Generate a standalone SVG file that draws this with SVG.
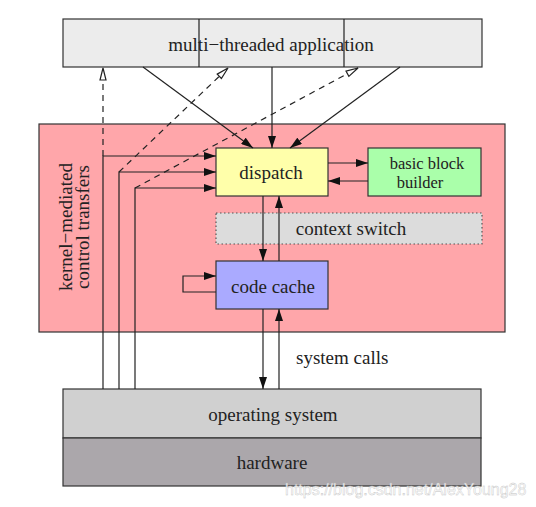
<svg xmlns="http://www.w3.org/2000/svg" width="536" height="507" viewBox="0 0 536 507">
<style>
.box{stroke:#333;stroke-width:1.2}
.t{font-family:"Liberation Serif","Times New Roman",serif;font-size:19px;fill:#222;text-anchor:middle}
.ln{stroke:#222;stroke-width:1.2;fill:none}
.dash{stroke:#222;stroke-width:1.2;fill:none;stroke-dasharray:6,5}
</style>
<defs>
<marker id="ah" viewBox="0 0 12 8" refX="12" refY="4" markerWidth="12" markerHeight="8" markerUnits="userSpaceOnUse" orient="auto">
<path d="M0,0 L12,4 L0,8 z" fill="#111"/>
</marker>
<marker id="oh" viewBox="0 0 14 8" refX="13" refY="4" markerWidth="14" markerHeight="8" markerUnits="userSpaceOnUse" orient="auto">
<path d="M1,1 L13,4 L1,7 z" fill="#fff" stroke="#222" stroke-width="1.2"/>
</marker>
</defs>
<rect width="536" height="507" fill="#fff"/>
<g id="runtime">
<rect class="box" x="39" y="124" width="466" height="208" fill="#ffa6aa"/>
<text class="t" transform="translate(72,227) rotate(-90)">kernel−mediated</text>
<text class="t" transform="translate(89,227) rotate(-90)">control transfers</text>
</g>
<g id="app">
<rect class="box" x="63" y="19" width="419" height="48" fill="#ececec"/>
<line class="ln" x1="199" y1="19" x2="199" y2="67"/>
<line class="ln" x1="344" y1="19" x2="344" y2="67"/>
<text class="t" x="271" y="51">multi−threaded application</text>
</g>
<g id="dispatch">
<rect class="box" x="216" y="148" width="112" height="48" fill="#ffffaa"/>
<text class="t" x="271" y="179">dispatch</text>
</g>
<g id="builder">
<rect class="box" x="368" y="148" width="113" height="48" fill="#aaffaa"/>
<text class="t" x="427" y="169" style="font-size:16.5px">basic block</text>
<text class="t" x="420" y="188" style="font-size:16.5px">builder</text>
</g>
<g id="context">
<rect x="216" y="213" width="266" height="31" fill="#dcdcdc" stroke="#555" stroke-width="1.2" stroke-dasharray="1.5,2.5"/>
<text class="t" x="351" y="235">context switch</text>
</g>
<g id="cache">
<rect class="box" x="216" y="261" width="112" height="48" fill="#aaaaff"/>
<text class="t" x="273" y="293">code cache</text>
</g>
<g id="os">
<rect class="box" x="63" y="389" width="418" height="49" fill="#d0d0d0"/>
<text class="t" x="273" y="421">operating system</text>
</g>
<g id="hw">
<rect class="box" x="63" y="438" width="418" height="48" fill="#aba7ab"/>
<text class="t" x="272" y="469">hardware</text>
</g>
<g id="connectors">
<line class="ln" x1="143" y1="67" x2="253" y2="148" marker-end="url(#ah)"/>
<line class="ln" x1="272" y1="67" x2="272" y2="148" marker-end="url(#ah)"/>
<line class="ln" x1="400" y1="67" x2="290" y2="148" marker-end="url(#ah)"/>
<line class="ln" x1="328" y1="163" x2="368" y2="163" marker-end="url(#ah)"/>
<line class="ln" x1="368" y1="181" x2="328" y2="181" marker-end="url(#ah)"/>
<line class="ln" x1="263" y1="196" x2="263" y2="261" marker-end="url(#ah)"/>
<line class="ln" x1="279" y1="261" x2="279" y2="196" marker-end="url(#ah)"/>
<line class="ln" x1="263" y1="309" x2="263" y2="389" marker-end="url(#ah)"/>
<line class="ln" x1="279" y1="389" x2="279" y2="309" marker-end="url(#ah)"/>
<polyline class="ln" points="216,292 183,292 183,276 216,276" marker-end="url(#ah)"/>
<polyline class="ln" points="103,389 103,156 216,156" marker-end="url(#ah)"/>
<polyline class="ln" points="119,389 119,172 216,172" marker-end="url(#ah)"/>
<polyline class="ln" points="135,389 135,188 216,188" marker-end="url(#ah)"/>
<line class="dash" x1="103" y1="156" x2="103" y2="68" marker-end="url(#oh)"/>
<line class="dash" x1="119" y1="172" x2="228" y2="68" marker-end="url(#oh)"/>
<line class="dash" x1="135" y1="188" x2="358" y2="68" marker-end="url(#oh)"/>
<text x="296" y="364" font-family="Liberation Serif, Times New Roman, serif" font-size="19" fill="#222">system calls</text>
</g>
<text x="285" y="495" font-family="Liberation Sans, Arial, sans-serif" font-size="16" fill="#fff" stroke="#bbb" stroke-width="0.4" opacity="0.9">https://blog.csdn.net/AlexYoung28</text>
</svg>
